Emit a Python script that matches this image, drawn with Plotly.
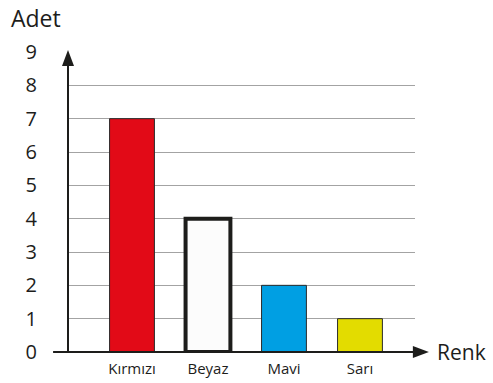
import plotly.graph_objects as go

categories = ["Kırmızı", "Beyaz", "Mavi", "Sarı"]
values = [7, 4, 2, 1]
y_ticks = list(range(0, 10))

colors = ["#e20a17", "#fcfcfc", "#009fe3", "#e3dc00"]
line_colors = ["#2a2a2a", "#1d1d1b", "#2a2a2a", "#2a2a2a"]
line_widths = [1, 4, 1, 1]

FONT = "Open Sans"

fig = go.Figure()
fig.add_trace(go.Bar(
    x=categories, y=values, width=0.59,
    marker=dict(color=colors, line=dict(color=line_colors, width=line_widths)),
    showlegend=False, hoverinfo="skip",
))

fig.update_layout(
    width=493, height=383,
    margin=dict(l=68, r=78, t=52, b=31, autoexpand=False),
    paper_bgcolor="white", plot_bgcolor="white",
    font=dict(family=FONT, color="#1d1d1b"),
    xaxis=dict(
        type="category", range=[-0.842, 3.724], automargin=False,
        showgrid=False, zeroline=False, showline=False,
        ticks="", tickfont=dict(size=15, family=FONT, color="#1d1d1b"),
        ticklabelstandoff=6,
    ),
    yaxis=dict(
        range=[0, 9], tickvals=y_ticks, ticktext=[str(v) for v in y_ticks],
        automargin=False,
        showgrid=True, gridcolor="#a3a3a3", gridwidth=1,
        zeroline=False, showline=False, ticks="",
        tickfont=dict(size=20, family=FONT, color="#1d1d1b"),
        ticklabelstandoff=30,
    ),
    shapes=[
        dict(type="line", xref="paper", yref="paper", x0=-0.043, x1=1.02, y0=0, y1=0,
             line=dict(color="#1d1d1b", width=2)),
        dict(type="line", xref="paper", yref="paper", x0=0, x1=0, y0=0, y1=0.97,
             line=dict(color="#1d1d1b", width=2)),
        dict(type="path", xref="paper", yref="paper", xsizemode="pixel", ysizemode="pixel",
             xanchor=1.04, yanchor=0, path="M0,0 L-16,6 L-16,-6 Z",
             fillcolor="#1d1d1b", line=dict(width=0)),
        dict(type="path", xref="paper", yref="paper", xsizemode="pixel", ysizemode="pixel",
             xanchor=0, yanchor=1.007, path="M0,0 L-6,-16 L6,-16 Z",
             fillcolor="#1d1d1b", line=dict(width=0)),
    ],
    annotations=[
        dict(text="Adet", xref="paper", yref="paper", x=-0.170, y=1.113,
             xanchor="left", yanchor="middle", showarrow=False,
             font=dict(size=23, family=FONT, color="#1d1d1b")),
        dict(text="Renk", xref="paper", yref="paper", x=1.058, y=0,
             xanchor="left", yanchor="middle", showarrow=False,
             font=dict(size=21, family=FONT, color="#1d1d1b")),
    ],
)

fig.write_html("out.html", config={"displayModeBar": False},
               post_script="document.body.style.margin='0';document.body.style.padding='0';")
